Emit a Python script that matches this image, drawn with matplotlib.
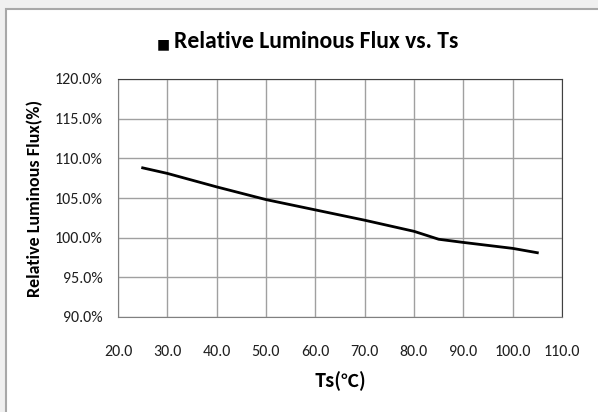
import matplotlib
matplotlib.use('Agg')
import matplotlib.pyplot as plt
from matplotlib.patches import Rectangle
from matplotlib.ticker import FuncFormatter

# values
ts = [25, 30, 40, 50, 60, 70, 80, 85, 90, 100, 105]
flux = [108.8, 108.1, 106.4, 104.8, 103.5, 102.2, 100.8, 99.8, 99.4, 98.65, 98.1]

x_ticks = [20, 30, 40, 50, 60, 70, 80, 90, 100, 110]
y_ticks = [90, 95, 100, 105, 110, 115, 120]

plt.rcParams['font.family'] = ['Carlito', 'DejaVu Sans']

fig = plt.figure(figsize=(5.98, 4.12), dpi=100)
fig.patch.set_facecolor('#f0f0f0')
# white chart area with gray frame
fig.patches.append(Rectangle((6 / 598, -0.01), 1, 1 - 9 / 412 + 0.01, transform=fig.transFigure,
                             facecolor='white', edgecolor='#a8a8a8', linewidth=1.5, zorder=-10))

ax = fig.add_axes([118 / 598, 1 - 317 / 412, 444 / 598, 238 / 412])
ax.plot(ts, flux, color='black', linewidth=2)

ax.set_xlim(20, 110)
ax.set_ylim(90, 120)
ax.set_xticks(x_ticks)
ax.set_yticks(y_ticks)
ax.xaxis.set_major_formatter(FuncFormatter(lambda v, p: '%.1f' % v))
ax.yaxis.set_major_formatter(FuncFormatter(lambda v, p: '%.1f%%' % v))
ax.tick_params(length=0, labelsize=11.5, colors='#202020')
ax.tick_params(axis='y', pad=11)
ax.tick_params(axis='x', pad=20)
ax.grid(True, color='#a0a0a0', linewidth=1)
ax.set_axisbelow(True)
for s in ax.spines.values():
    s.set_color('#808080')
ax.spines['top'].set_color('#404040')
ax.spines['right'].set_color('#404040')

ax.set_xlabel('Ts(℃)', fontsize=13, fontweight='bold', labelpad=9,
              family=['Noto Sans CJK SC', 'DejaVu Sans'])
ax.set_ylabel('Relative Luminous Flux(%)', fontsize=13, fontweight='bold', labelpad=8)

fig.text(157 / 598, 1 - 48 / 412, '■', ha='left', va='baseline', fontsize=10,
         family=['DejaVu Sans'])
fig.text(174 / 598, 1 - 48 / 412, 'Relative Luminous Flux vs. Ts', ha='left', va='baseline',
         fontsize=17, fontweight='bold')

fig.savefig('out.png', dpi=100, facecolor=fig.get_facecolor())
